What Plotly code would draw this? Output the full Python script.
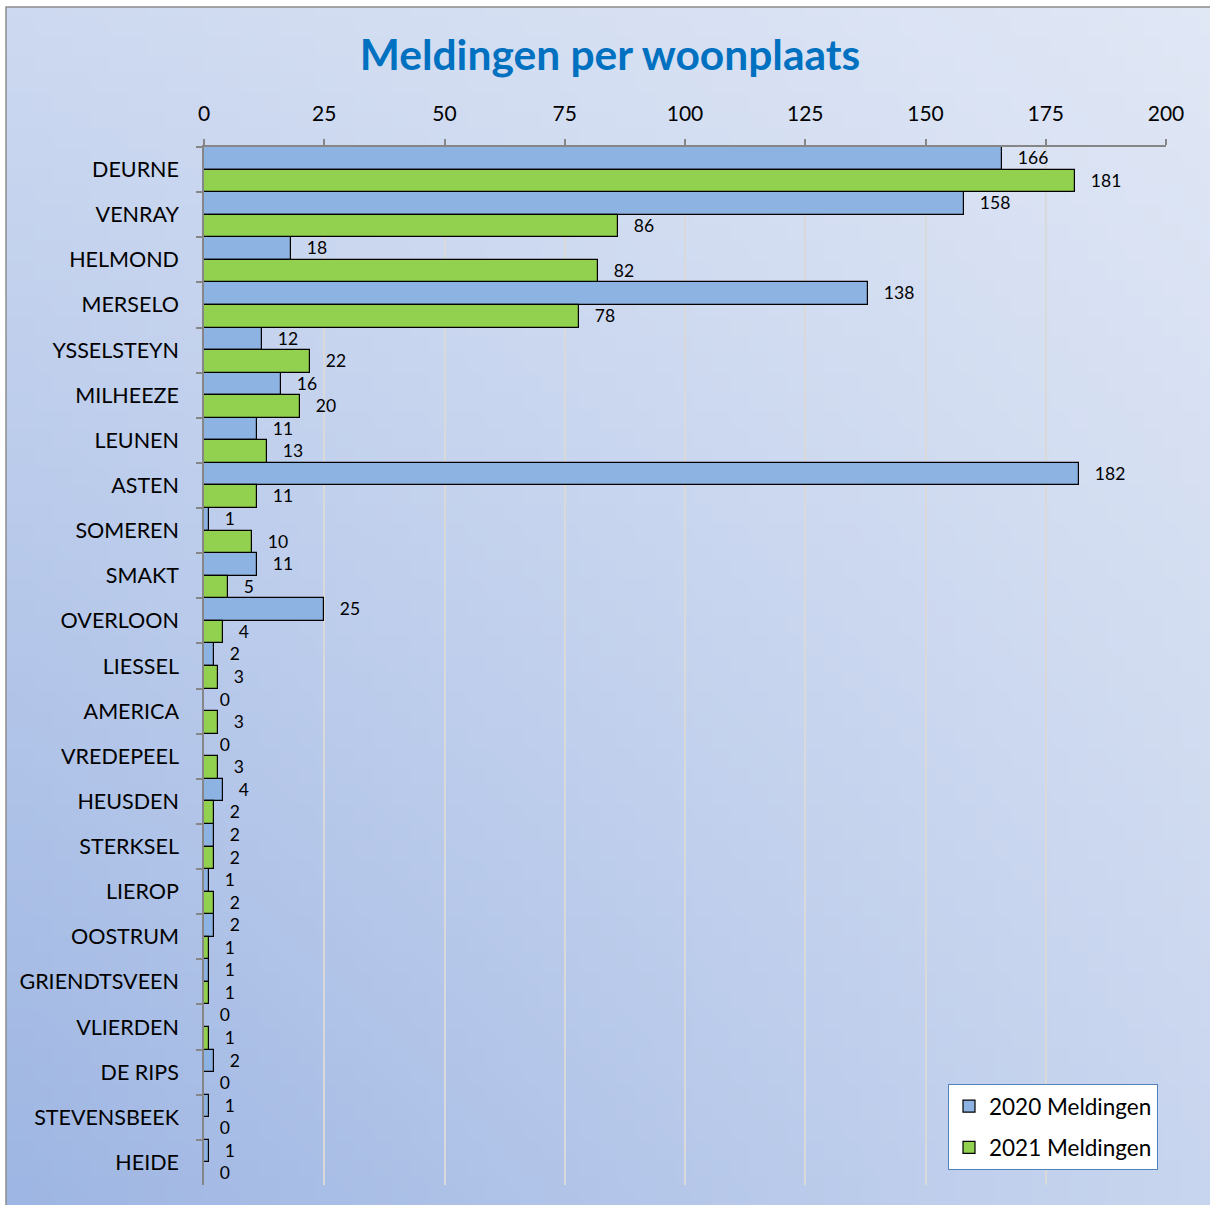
import base64, struct, zlib
import plotly.graph_objects as go

# ---------------- data ----------------
categories = ["DEURNE", "VENRAY", "HELMOND", "MERSELO", "YSSELSTEYN", "MILHEEZE",
              "LEUNEN", "ASTEN", "SOMEREN", "SMAKT", "OVERLOON", "LIESSEL",
              "AMERICA", "VREDEPEEL", "HEUSDEN", "STERKSEL", "LIEROP", "OOSTRUM",
              "GRIENDTSVEEN", "VLIERDEN", "DE RIPS", "STEVENSBEEK", "HEIDE"]
meldingen_2020 = [166, 158, 18, 138, 12, 16, 11, 182, 1, 11, 25, 2, 0, 0, 4, 2, 1, 2, 1, 0, 2, 1, 1]
meldingen_2021 = [181, 86, 82, 78, 22, 20, 13, 11, 10, 5, 4, 3, 3, 3, 2, 2, 2, 1, 1, 1, 0, 0, 0]
series_names = ["2020 Meldingen", "2021 Meldingen"]
x_ticks = [0, 25, 50, 75, 100, 125, 150, 175, 200]
title_text = "Meldingen per woonplaats"

# ---------------- layout geometry ----------------
W, H = 1210, 1205
L, T = 204, 147
R, B = W - 1166, H - 1185
PW, PH = W - L - R, H - T - B

FONT = "Lato"


def png_data_uri(w, h, corners):
    tl, tr, bl, br = corners
    rows = []
    for j in range(h):
        v = j / (h - 1)
        row = bytearray([0])
        for i in range(w):
            u = i / (w - 1)
            for c in range(3):
                top = tl[c] * (1 - u) + tr[c] * u
                bot = bl[c] * (1 - u) + br[c] * u
                row.append(int(round(top * (1 - v) + bot * v)))
        rows.append(bytes(row))
    raw = b"".join(rows)

    def chunk(tag, data):
        return struct.pack(">I", len(data)) + tag + data + struct.pack(">I", zlib.crc32(tag + data) & 0xffffffff)

    png = b"\x89PNG\r\n\x1a\n" + chunk(b"IHDR", struct.pack(">IIBBBBB", w, h, 8, 2, 0, 0, 0)) \
        + chunk(b"IDAT", zlib.compress(raw, 9)) + chunk(b"IEND", b"")
    return "data:image/png;base64," + base64.b64encode(png).decode()


bg = png_data_uri(64, 64, [(205, 217, 240), (224, 231, 245), (158, 182, 227), (200, 213, 238)])

pad = "\u00a0\u00a0\u00a0"

fig = go.Figure()
fig.add_trace(go.Bar(
    y=categories, x=meldingen_2020, name=series_names[0], orientation="h",
    marker=dict(color="#8DB3E2", line=dict(color="black", width=1.2)),
    text=[f"{pad}{v}" for v in meldingen_2020], textposition="outside",
    textfont=dict(family=FONT, size=17.5, color="black"), constraintext="none",
    cliponaxis=False, legendgroup="a",
))
fig.add_trace(go.Bar(
    y=categories, x=meldingen_2021, name=series_names[1], orientation="h",
    marker=dict(color="#92D050", line=dict(color="black", width=1.2)),
    text=[f"{pad}{v}" for v in meldingen_2021], textposition="outside",
    textfont=dict(family=FONT, size=17.5, color="black"), constraintext="none",
    cliponaxis=False, legendgroup="b",
))

fig.update_layout(
    width=W, height=H,
    margin=dict(l=L, r=R, t=T, b=B, autoexpand=False),
    paper_bgcolor="white", plot_bgcolor="white",
    barmode="group", bargap=0, bargroupgap=0,
    font=dict(family=FONT, color="black"),
    title=dict(text=f"<b>{title_text}</b>", x=610 / W, xanchor="center", xref="container",
               y=1 - 55 / H, yanchor="middle", yref="container",
               font=dict(family=FONT, size=42.5, color="#0070C0")),
    xaxis=dict(side="top", range=[0, 200], tickvals=x_ticks, ticktext=[str(t) for t in x_ticks],
               showgrid=True, gridcolor="#D9D9D9", gridwidth=1.5, zeroline=False,
               showline=True, linecolor="#868686", linewidth=1.5,
               ticks="outside", ticklen=6, tickcolor="#868686", tickwidth=1.5,
               tickfont=dict(family=FONT, size=21, color="black"), ticklabelstandoff=10),
    yaxis=dict(autorange="reversed", tickson="boundaries", showgrid=False, zeroline=False,
               showline=True, linecolor="#868686", linewidth=1.5,
               ticks="outside", ticklen=6, tickcolor="#868686", tickwidth=1.5,
               tickfont=dict(family=FONT, size=21.5, color="black"), ticklabelstandoff=19),
    legend=dict(x=(948 - L) / PW, y=(1185 - 1084) / PH, xanchor="left", yanchor="top",
                bgcolor="white", bordercolor="#4F81BD", borderwidth=1,
                font=dict(family=FONT, size=22.5, color="black"), tracegroupgap=9,
                itemwidth=30),
    showlegend=True,
    images=[dict(source=bg, xref="paper", yref="paper",
                 x=(6 - L) / PW, y=1 + (T - 7) / PH, sizex=(W - 6) / PW, sizey=(H - 7) / PH,
                 xanchor="left", yanchor="top", sizing="stretch", layer="below")],
    shapes=[dict(type="rect", xref="paper", yref="paper",
                 x0=(6 - L) / PW, y1=1 + (T - 7) / PH, x1=(W + 10 - L) / PW, y0=-(B + 10) / PH,
                 line=dict(color="#8C8C8C", width=1.5), fillcolor="rgba(0,0,0,0)", layer="above")],
)

fig.write_html("out.html", config={"displayModeBar": False},
               post_script="document.body.style.margin='0';document.body.style.overflow='hidden';")
